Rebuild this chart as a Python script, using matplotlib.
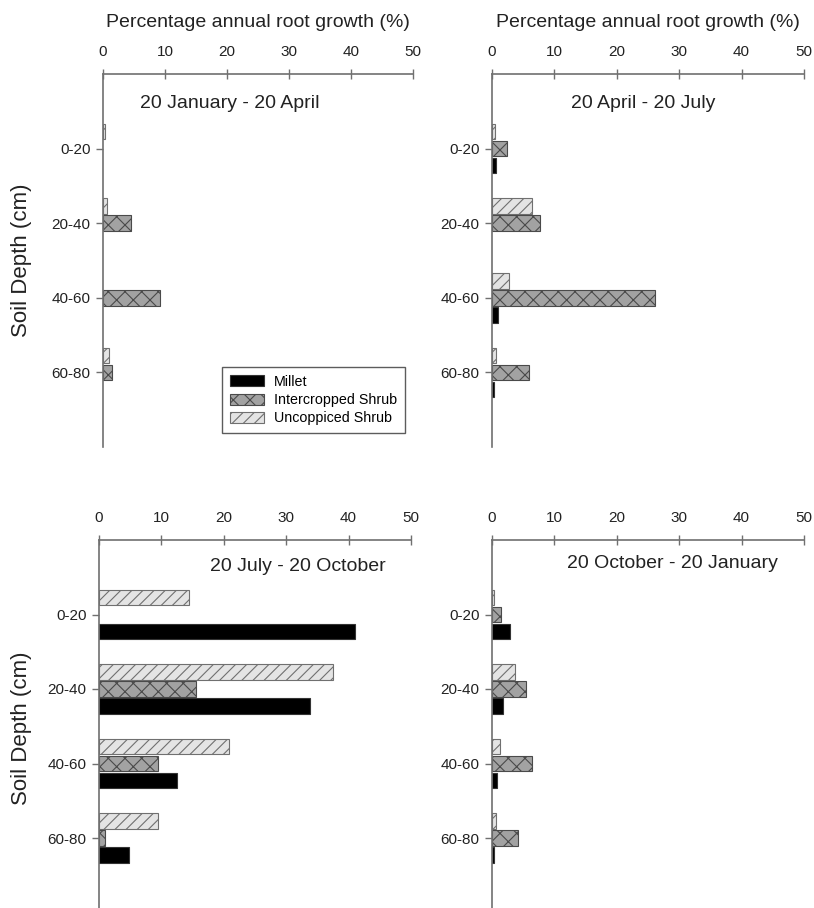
import matplotlib
matplotlib.use("Agg")
import matplotlib.pyplot as plt
import numpy as np

plt.rcParams['font.family'] = ['Liberation Sans', 'DejaVu Sans']
plt.rcParams['hatch.linewidth'] = 0.8

depths = ["0-20", "20-40", "40-60", "60-80"]
series = ["Millet", "Intercropped Shrub", "Uncoppiced Shrub"]
periods = ["20 January - 20 April", "20 April - 20 July",
           "20 July - 20 October", "20 October - 20 January"]

# values (%) per depth, for each period
millet = {
    "20 January - 20 April": [0.0, 0.0, 0.0, 0.0],
    "20 April - 20 July": [0.6, 0.0, 0.9, 0.4],
    "20 July - 20 October": [41.1, 33.8, 12.5, 4.8],
    "20 October - 20 January": [2.9, 1.8, 0.8, 0.3],
}
intercropped = {
    "20 January - 20 April": [0.0, 4.5, 9.2, 1.5],
    "20 April - 20 July": [2.4, 7.7, 26.1, 5.9],
    "20 July - 20 October": [0.0, 15.6, 9.4, 1.0],
    "20 October - 20 January": [1.5, 5.5, 6.4, 4.2],
}
uncoppiced = {
    "20 January - 20 April": [0.4, 0.6, 0.0, 1.0],
    "20 April - 20 July": [0.5, 6.4, 2.7, 0.6],
    "20 July - 20 October": [14.4, 37.5, 20.8, 9.4],
    "20 October - 20 January": [0.3, 3.7, 1.3, 0.6],
}
xticks = [0, 10, 20, 30, 40, 50]

W, H = 814, 908
fig = plt.figure(figsize=(W / 100, H / 100), dpi=100)

def rect(l, r, t, b):
    return [l / W, (H - b) / H, (r - l) / W, (b - t) / H]

rects = [rect(103, 413, 74, 447), rect(492, 804, 74, 447),
         rect(99, 411, 540, 912.5), rect(492, 804, 540, 912.5)]
title_pos = [(20.5, 0.40), (24.2, 0.40), (31.9, 0.36), (28.9, 0.31)]

spine_c = '#707070'
off = 0.228
bh = 0.21
ypos = np.arange(1, len(depths) + 1)


def edges(vals, c):
    return [c if v > 0 else 'none' for v in vals]


axes = []
for k, p in enumerate(periods):
    ax = fig.add_axes(rects[k])
    axes.append(ax)
    ax.barh(ypos - off, uncoppiced[p], height=bh, color='#e4e4e4',
            edgecolor=edges(uncoppiced[p], '#707070'), hatch='///',
            linewidth=0.8, label=series[2])
    ax.barh(ypos, intercropped[p], height=bh, color='#a2a2a2',
            edgecolor=edges(intercropped[p], '#4a4a4a'), hatch='xx',
            linewidth=0.8, label=series[1])
    ax.barh(ypos + off, millet[p], height=bh, color='black',
            edgecolor=edges(millet[p], '#333333'), linewidth=0.8,
            label=series[0])
    ax.set_xlim(0, 50)
    ax.set_ylim(5, 0)
    ax.set_xticks(xticks)
    ax.set_yticks(ypos)
    ax.set_yticklabels(depths)
    ax.xaxis.tick_top()
    for s in ['right', 'bottom']:
        ax.spines[s].set_visible(False)
    for s in ['top', 'left']:
        ax.spines[s].set_color(spine_c)
        ax.spines[s].set_linewidth(1.2)
    ax.tick_params(axis='x', direction='inout', length=7, width=1,
                   color=spine_c, labelsize=11, pad=7, labelcolor='#222222')
    ax.tick_params(axis='y', direction='out', length=5, width=1,
                   color=spine_c, labelsize=11, pad=4, labelcolor='#222222')
    ax.text(title_pos[k][0], title_pos[k][1], p, ha='center', va='center',
            fontsize=14, color='#222222')
    if k < 2:
        ax.xaxis.set_label_position('top')
        ax.set_xlabel("Percentage annual root growth (%)", fontsize=14,
                      labelpad=13, color='#222222')

# legend handles taken from the first panel's bars
h_list = axes[0].containers
leg = axes[0].legend([h_list[2], h_list[1], h_list[0]], series,
                     loc='upper left',
                     bbox_to_anchor=(222 / W, 1 - 367 / H),
                     bbox_transform=fig.transFigure, borderaxespad=0,
                     fontsize=10.3, frameon=True, fancybox=False,
                     handlelength=2.4, handleheight=0.8, labelspacing=0.3,
                     handletextpad=0.7, borderpad=0.55)
leg.get_frame().set_edgecolor('#333333')
leg.get_frame().set_linewidth(1.0)
for lh, c in zip(leg.legend_handles, ['#333333', '#4a4a4a', '#707070']):
    lh.set_edgecolor(c)

fig.text(22 / W, 1 - 260.5 / H, "Soil Depth (cm)", rotation=90,
         ha='center', va='center', fontsize=16, color='#222222')
fig.text(22 / W, 1 - 728 / H, "Soil Depth (cm)", rotation=90,
         ha='center', va='center', fontsize=16, color='#222222')

fig.savefig("out.png", dpi=100)
